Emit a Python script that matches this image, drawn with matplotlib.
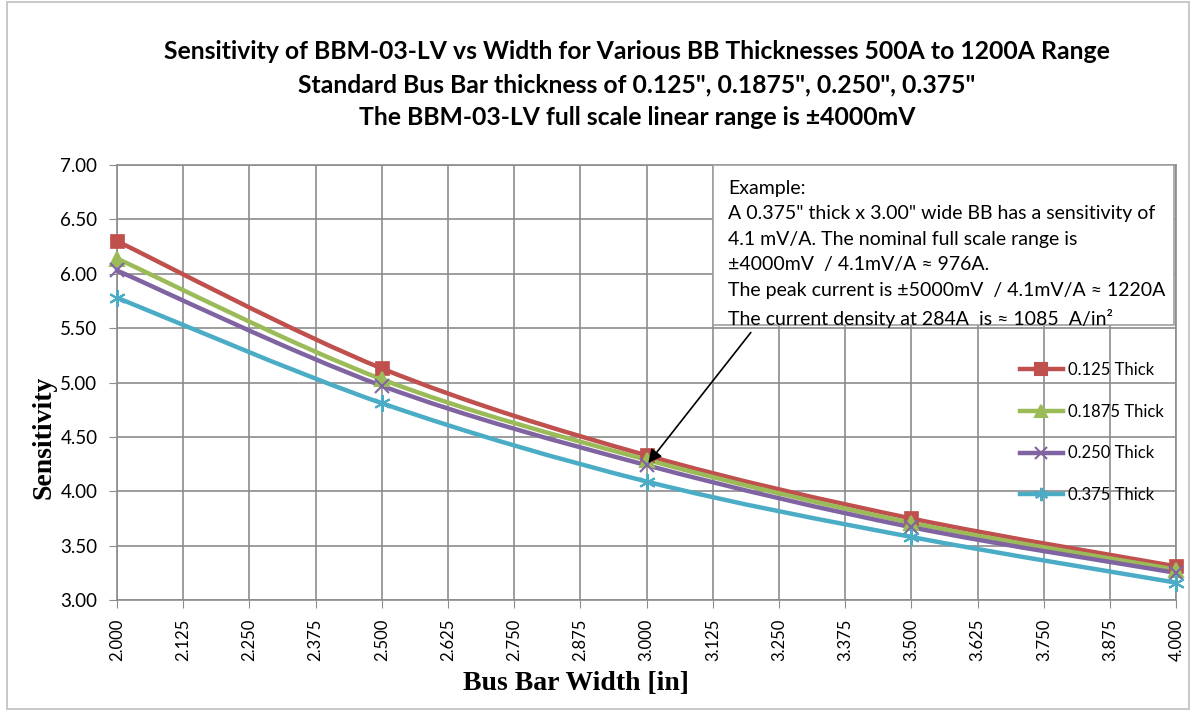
import numpy as np
import matplotlib
matplotlib.use('Agg')
import matplotlib.pyplot as plt
from matplotlib.path import Path
from matplotlib.patches import PathPatch, Rectangle

# Dados
largura = [2.0, 2.5, 3.0, 3.5, 4.0]
sens_0125 = [6.30, 5.13, 4.33, 3.75, 3.31]
sens_01875 = [6.14, 5.03, 4.29, 3.71, 3.28]
sens_0250 = [6.03, 4.97, 4.24, 3.67, 3.25]
sens_0375 = [5.78, 4.81, 4.09, 3.58, 3.16]
rotulos = ['0.125 Thick', '0.1875 Thick', '0.250 Thick', '0.375 Thick']
x_ticks = [2.0 + 0.125 * i for i in range(17)]
y_ticks = [3.0, 3.5, 4.0, 4.5, 5.0, 5.5, 6.0, 6.5, 7.0]

cores = ['#C0504D', '#9BBB59', '#8064A2', '#4BACC6']
marcadores = ['s', '^', 'x', (6, 2, 0)]
tam_marc = [10, 10, 10, 12]

plt.rcParams['font.family'] = ['Lato', 'DejaVu Sans']


def curva_suave(x, y):
    # curva tipo Excel "smoothed line" (Bezier cubica)
    x = np.asarray(x, float)
    y = np.asarray(y, float)
    verts = [(x[0], y[0])]
    codes = [Path.MOVETO]
    n = len(x)
    for i in range(n - 1):
        i0 = max(i - 1, 0)
        i3 = min(i + 2, n - 1)
        c1 = (x[i] + (x[i + 1] - x[i0]) / 6, y[i] + (y[i + 1] - y[i0]) / 6)
        c2 = (x[i + 1] - (x[i3] - x[i]) / 6, y[i + 1] - (y[i3] - y[i]) / 6)
        verts += [c1, c2, (x[i + 1], y[i + 1])]
        codes += [Path.CURVE4] * 3
    return Path(verts, codes)


fig = plt.figure(figsize=(11.93, 7.11), dpi=100)
ax = fig.add_axes([0.098, 0.156, 0.888, 0.612])

series = [sens_0125, sens_01875, sens_0250, sens_0375]
for s, c, m, ms, lab in zip(series, cores, marcadores, tam_marc, rotulos):
    ax.add_patch(PathPatch(curva_suave(largura, s), facecolor='none', edgecolor=c,
                           lw=3.2, zorder=3, capstyle='round', clip_on=False))
    ax.plot(largura, s, linestyle='none', marker=m, color=c, markersize=ms,
            markeredgewidth=1.5 if m != 's' else 0.5, zorder=4, clip_on=False)
    ax.plot([], [], color=c, lw=3.2, marker=m, markersize=ms * 0.8,
            markeredgewidth=1.5, label=lab)

ax.set_xlim(2.0, 4.0)
ax.set_ylim(3.0, 7.0)
ax.set_xticks(x_ticks)
ax.set_xticklabels([f'{v:.3f}' for v in x_ticks], rotation=90, fontsize=12)
ax.set_yticks(y_ticks)
ax.set_yticklabels([f'{v:.2f}' for v in y_ticks], fontsize=13.5)
ax.grid(True, color='#8c8c8c', lw=1.2)
ax.set_axisbelow(True)
for sp in ax.spines.values():
    sp.set_color('#8c8c8c')
    sp.set_linewidth(1.2)
ax.tick_params(length=6, color='#8c8c8c')
ax.tick_params(axis='x', pad=7)
ax.tick_params(axis='y', pad=8)

fig.text(576 / 1193, 1 - 683 / 711, 'Bus Bar Width [in]', family='Liberation Serif',
         fontweight='bold', fontsize=20, ha='center', va='center')
fig.text(44 / 1193, 1 - 437 / 711, 'Sensitivity', family='Liberation Serif',
         fontweight='bold', fontsize=20, ha='center', va='center', rotation=90)

fig.text(0.534, 0.927, 'Sensitivity of BBM-03-LV vs Width for Various BB Thicknesses 500A to 1200A Range',
         ha='center', va='center', fontsize=17.8, fontweight='bold')
fig.text(0.534, 0.881, 'Standard Bus Bar thickness of 0.125", 0.1875", 0.250", 0.375"',
         ha='center', va='center', fontsize=17.8, fontweight='bold')
fig.text(0.534, 0.835, 'The BBM-03-LV full scale linear range is \u00b14000mV',
         ha='center', va='center', fontsize=17.8, fontweight='bold')

# caixa de exemplo
texto = ('Example:\n'
         'A 0.375" thick x 3.00" wide BB has a sensitivity of\n'
         '4.1 mV/A. The nominal full scale range is\n'
         '\u00b14000mV  / 4.1mV/A \u2248 976A.\n'
         'The peak current is \u00b15000mV  / 4.1mV/A \u2248 1220A\n'
         'The current density at 284A  is \u2248 1085  A/in\u00b2')
ax.add_patch(Rectangle((0.563, 0.632), 0.435, 0.368, transform=ax.transAxes,
                       facecolor='white', edgecolor='#a0a0a0', lw=1.2, zorder=5))
ax.text(0.577, 0.966, texto, transform=ax.transAxes, ha='left', va='top',
        fontsize=14, linespacing=1.61, zorder=6)
ax.annotate('', xy=(3.0, 4.24), xytext=(3.20, 5.48),
            arrowprops=dict(arrowstyle='-|>', color='black', lw=1.2, mutation_scale=20),
            zorder=7)

leg = ax.legend(loc='center left', bbox_to_anchor=(0.838, 0.385), frameon=False,
                fontsize=12, labelspacing=1.55, handlelength=2.6, handletextpad=0.3)
leg.set_zorder(8)

fig.patches.append(Rectangle((0.006, 0.003), 0.991, 0.994, transform=fig.transFigure,
                             fill=False, edgecolor='#bfbfbf', lw=1.2))

fig.savefig('out.png', dpi=100)
